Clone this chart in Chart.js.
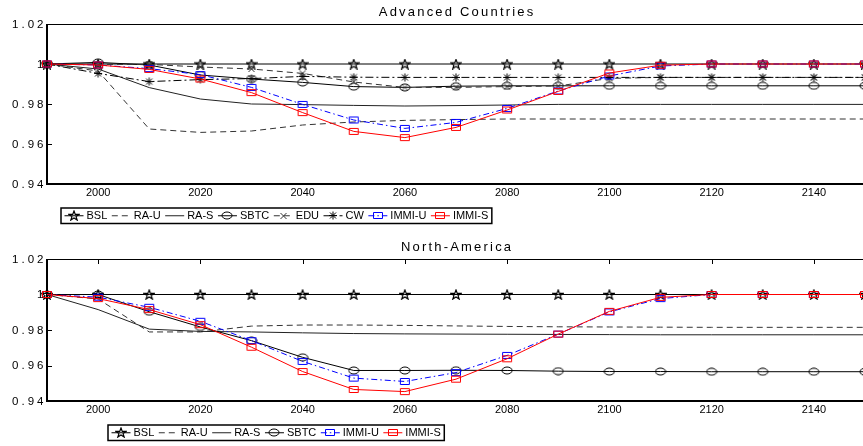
<!DOCTYPE html>
<html>
<head>
<meta charset="utf-8">
<script src="https://cdn.jsdelivr.net/npm/chart.js@4/dist/chart.umd.min.js"></script>
<style>
  html, body { margin: 0; padding: 0; background: #fff; overflow: hidden; }
  #wrap { position: relative; width: 863px; height: 446px; overflow: hidden; }
  canvas { position: absolute; left: 0; }
  #topChart { top: 0; }
  #bottomChart { top: 226px; }
</style>
</head>
<body>
<div id="wrap">
  <canvas id="topChart" width="870" height="226"></canvas>
  <canvas id="bottomChart" width="870" height="220"></canvas>
</div>
<script>
// x values and axis ticks
const years = [1990, 2000, 2010, 2020, 2030, 2040, 2050, 2060, 2070, 2080, 2090, 2100, 2110, 2120, 2130, 2140, 2150];
const xTicks = [2000, 2020, 2040, 2060, 2080, 2100, 2120, 2140];
const yTicks = [0.94, 0.96, 0.98, 1, 1.02];
const yTickLabels = ['0.94', '0.96', '0.98', '1', '1.02'];

// Advanced Countries
const acBSL   = [1, 1, 1, 1, 1, 1, 1, 1, 1, 1, 1, 1, 1, 1, 1, 1, 1];
const acRAU   = [1, 0.9965, 0.9675, 0.9658, 0.9665, 0.9695, 0.9710, 0.9718, 0.9722, 0.9725, 0.9725, 0.9725, 0.9725, 0.9725, 0.9725, 0.9725, 0.9725];
const acRAS   = [1, 0.9975, 0.9882, 0.9825, 0.9800, 0.9797, 0.9793, 0.9790, 0.9792, 0.9795, 0.9798, 0.9798, 0.9798, 0.9798, 0.9798, 0.9798, 0.9798];
const acSBTC  = [1, 1.0008, 0.9995, 0.9945, 0.9925, 0.9908, 0.9887, 0.9883, 0.9889, 0.9891, 0.9891, 0.9891, 0.9891, 0.9891, 0.9891, 0.9891, 0.9891];
const acEDU   = [1, 0.9998, 0.9998, 0.9985, 0.9975, 0.9953, 0.9910, 0.9883, 0.9883, 0.9887, 0.9890, 0.9928, 0.9933, 0.9933, 0.9933, 0.9933, 0.9933];
const acCW    = [1, 0.9953, 0.9912, 0.9922, 0.9927, 0.9938, 0.9934, 0.9933, 0.9933, 0.9933, 0.9933, 0.9933, 0.9933, 0.9933, 0.9933, 0.9933, 0.9933];
const acIMMIU = [1, 0.9995, 0.9977, 0.9947, 0.9883, 0.9798, 0.9720, 0.9678, 0.9708, 0.9778, 0.9865, 0.9940, 0.9990, 1, 1, 1, 1];
const acIMMIS = [1, 0.9995, 0.9973, 0.9925, 0.9857, 0.9757, 0.9663, 0.9632, 0.9683, 0.9770, 0.9863, 0.9955, 0.9994, 1, 1, 1, 1];

// North-America
const naBSL   = [1, 1, 1, 1, 1, 1, 1, 1, 1, 1, 1, 1, 1, 1, 1, 1, 1];
const naRAU   = [1, 0.9975, 0.9789, 0.9789, 0.9822, 0.9828, 0.9828, 0.9826, 0.9823, 0.9820, 0.9818, 0.9817, 0.9816, 0.9815, 0.9815, 0.9815, 0.9815];
const naRAS   = [1, 0.9915, 0.9805, 0.9792, 0.9789, 0.9784, 0.9780, 0.9778, 0.9777, 0.9776, 0.9775, 0.9774, 0.9773, 0.9773, 0.9773, 0.9773, 0.9773];
const naSBTC  = [1, 1, 0.9903, 0.9817, 0.9740, 0.9646, 0.9572, 0.9572, 0.9573, 0.9572, 0.9568, 0.9566, 0.9566, 0.9565, 0.9565, 0.9565, 0.9565];
const naIMMIU = [1, 0.9985, 0.9928, 0.9849, 0.9740, 0.9623, 0.9529, 0.9510, 0.9560, 0.9657, 0.9777, 0.9902, 0.9977, 1, 1, 1, 1];
const naIMMIS = [1, 0.9977, 0.9915, 0.9830, 0.9703, 0.9566, 0.9465, 0.9453, 0.9523, 0.9638, 0.9777, 0.9905, 0.9984, 1, 1, 1, 1];

const FONT = '"Liberation Sans", Arial, Helvetica, sans-serif';

// matlab-like markers (a bit wider than tall, like the picture)
function makeMarker(kind, color) {
  const sizes = { star: [12, 11], circle: [12, 9], square: [12, 9], asterisk: [10, 9], cross: [9, 8] };
  const c = document.createElement('canvas');
  c.width = sizes[kind][0];
  c.height = sizes[kind][1];
  const g = c.getContext('2d');
  const cx = c.width / 2, cy = c.height / 2;
  g.strokeStyle = color;
  g.lineWidth = 1;
  g.beginPath();
  if (kind === 'star') {
    g.lineWidth = 1.2;
    for (let i = 0; i < 10; i++) {
      const r = i % 2 === 0 ? 1 : 0.4;
      const a = -Math.PI / 2 + i * Math.PI / 5;
      const px = cx + Math.cos(a) * r * 5.4;
      const py = cy + 0.5 + Math.sin(a) * r * 5;
      if (i === 0) g.moveTo(px, py); else g.lineTo(px, py);
    }
    g.closePath();
  } else if (kind === 'circle') {
    g.ellipse(cx, cy, 5, 3.5, 0, 0, Math.PI * 2);
  } else if (kind === 'square') {
    g.rect(1.5, 1.5, c.width - 3, c.height - 3);
  } else if (kind === 'asterisk') {
    g.moveTo(cx - 4, cy); g.lineTo(cx + 4, cy);
    g.moveTo(cx, cy - 4); g.lineTo(cx, cy + 4);
    g.moveTo(cx - 3, cy - 3); g.lineTo(cx + 3, cy + 3);
    g.moveTo(cx - 3, cy + 3); g.lineTo(cx + 3, cy - 3);
  } else if (kind === 'cross') {
    g.moveTo(cx - 3, cy - 3); g.lineTo(cx + 3, cy + 3);
    g.moveTo(cx - 3, cy + 3); g.lineTo(cx + 3, cy - 3);
  }
  g.stroke();
  return c;
}

const DASH = [6, 4];
const DASHDOT = [8, 3, 2, 3];
const BLUEDOT = [6, 3, 1.5, 3];

const topSeries = [
  { label: 'BSL',    data: acBSL,   color: '#000', dash: [],      marker: 'star' },
  { label: 'RA-U',   data: acRAU,   color: '#333', dash: DASH,    marker: null },
  { label: 'RA-S',   data: acRAS,   color: '#222', dash: [],      marker: null },
  { label: 'SBTC',   data: acSBTC,  color: '#000', dash: [],      marker: 'circle' },
  { label: 'EDU',    data: acEDU,   color: '#333', dash: DASH,    marker: 'cross' },
  { label: 'CW',     data: acCW,    color: '#000', dash: DASHDOT, marker: 'asterisk' },
  { label: 'IMMI-U', data: acIMMIU, color: '#0000ff', dash: BLUEDOT, marker: 'square' },
  { label: 'IMMI-S', data: acIMMIS, color: '#ff0000', dash: [],   marker: 'square' }
];

const bottomSeries = [
  { label: 'BSL',    data: naBSL,   color: '#000', dash: [],      marker: 'star' },
  { label: 'RA-U',   data: naRAU,   color: '#333', dash: DASH,    marker: null },
  { label: 'RA-S',   data: naRAS,   color: '#222', dash: [],      marker: null },
  { label: 'SBTC',   data: naSBTC,  color: '#000', dash: [],      marker: 'circle' },
  { label: 'IMMI-U', data: naIMMIU, color: '#0000ff', dash: BLUEDOT, marker: 'square' },
  { label: 'IMMI-S', data: naIMMIS, color: '#ff0000', dash: [],   marker: 'square' }
];

function buildDatasets(series) {
  return series.map((s, i) => {
    s.img = s.marker ? makeMarker(s.marker, s.color) : null;
    return {
      label: s.label,
      data: years.map((yr, k) => ({ x: yr, y: s.data[k] })),
      borderColor: s.color,
      borderWidth: 1,
      borderDash: s.dash,
      pointStyle: s.img || 'circle',
      pointRadius: s.img ? 4 : 0,
      tension: 0,
      fill: false,
      clip: false,
      order: series.length - i   // later series end up on top, like matlab
    };
  });
}

function spacedWidth(ctx, txt, sp) {
  let w = 0;
  for (const ch of txt) w += ctx.measureText(ch).width + sp;
  return w - sp;
}

function drawSpaced(ctx, txt, x, y, sp) {
  for (const ch of txt) {
    ctx.fillText(ch, x, y);
    x += ctx.measureText(ch).width + sp;
  }
}

function drawLegend(ctx, series, cx, top) {
  const sample = 19, gap = 3, between = 4.5, pad = 3.5, h = 15.5;
  ctx.font = '11px ' + FONT;
  const widths = series.map(s => ctx.measureText(s.label).width);
  const total = pad * 2 + widths.reduce((a, b) => a + b, 0) +
    series.length * (sample + gap) + (series.length - 1) * between;
  const x0 = Math.round(cx - total / 2);
  ctx.fillStyle = '#fff';
  ctx.fillRect(x0, top, total, h);
  ctx.lineWidth = 1.5;
  ctx.strokeStyle = '#000';
  ctx.strokeRect(x0, top, total, h);
  const mid = top + h / 2;
  let px = x0 + pad;
  series.forEach((s, i) => {
    ctx.save();
    ctx.strokeStyle = s.color;
    ctx.lineWidth = 1;
    ctx.setLineDash(s.dash);
    ctx.beginPath();
    ctx.moveTo(px, mid);
    ctx.lineTo(px + sample, mid);
    ctx.stroke();
    ctx.restore();
    if (s.img) ctx.drawImage(s.img, Math.round(px + sample / 2 - s.img.width / 2), Math.round(mid - s.img.height / 2));
    ctx.fillStyle = '#000';
    ctx.textBaseline = 'middle';
    ctx.textAlign = 'left';
    ctx.fillText(s.label, px + sample + gap, mid + 0.5);
    px += sample + gap + widths[i] + between;
  });
}

// frame, inner ticks, spaced y labels, title and legend
function panelPlugin(title, series, topTicks) {
  return {
    id: 'panel',
    beforeDatasetsDraw(chart) {
      const { ctx, chartArea: a, scales } = chart;
      ctx.save();
      ctx.strokeStyle = '#000';
      ctx.lineWidth = 1;
      ctx.beginPath();
      ctx.moveTo(a.left, a.top + 0.5);
      ctx.lineTo(a.right + 4, a.top + 0.5);
      yTicks.forEach(v => {
        const y = Math.round(scales.y.getPixelForValue(v)) + 0.5;
        ctx.moveTo(a.left, y);
        ctx.lineTo(a.left + 5, y);
      });
      if (topTicks) {
        xTicks.forEach(v => {
          const x = Math.round(scales.x.getPixelForValue(v)) + 0.5;
          ctx.moveTo(x, a.top);
          ctx.lineTo(x, a.top + 5);
        });
      }
      ctx.stroke();
      ctx.lineWidth = 2;
      ctx.beginPath();
      ctx.moveTo(a.left, a.top);
      ctx.lineTo(a.left, a.bottom);
      ctx.lineTo(a.right + 4, a.bottom);
      ctx.stroke();
      ctx.restore();
    },
    afterDraw(chart) {
      const { ctx, chartArea: a, scales } = chart;
      ctx.save();
      ctx.fillStyle = '#000';
      ctx.textBaseline = 'middle';
      ctx.textAlign = 'left';

      ctx.font = '11.5px ' + FONT;
      yTicks.forEach((v, i) => {
        const txt = yTickLabels[i];
        const w = spacedWidth(ctx, txt, 3);
        drawSpaced(ctx, txt, 43.5 - w, scales.y.getPixelForValue(v) + 0.5, 3);
      });

      ctx.font = '13px ' + FONT;
      const tw = spacedWidth(ctx, title, 2.2);
      drawSpaced(ctx, title, (a.left + a.right) / 2 - tw / 2, a.top - 11.5, 2.2);

      drawLegend(ctx, series, 276, a.bottom + 24);
      ctx.restore();
    }
  };
}

function makeChart(id, series, title, pad, topTicks) {
  return new Chart(document.getElementById(id), {
    type: 'line',
    data: { datasets: buildDatasets(series) },
    options: {
      responsive: false,
      devicePixelRatio: 1,
      animation: false,
      events: [],
      layout: { padding: pad },
      plugins: {
        legend: { display: false },
        title: { display: false },
        tooltip: { enabled: false }
      },
      scales: {
        x: {
          type: 'linear',
          min: 1990,
          max: 2150,
          afterBuildTicks: s => { s.ticks = xTicks.map(v => ({ value: v })); },
          afterFit: s => { s.height = 20; },
          grid: { display: false, drawTicks: false, tickLength: 0 },
          border: { display: false },
          ticks: {
            font: { family: FONT, size: 11 },
            color: '#000',
            padding: 2,
            maxRotation: 0,
            autoSkip: false,
            callback: v => String(v)
          }
        },
        y: {
          min: 0.94,
          max: 1.02,
          afterBuildTicks: s => { s.ticks = yTicks.map(v => ({ value: v })); },
          afterFit: s => { s.width = 47; },
          grid: { display: false, drawTicks: false },
          border: { display: false },
          ticks: { display: false }
        }
      }
    },
    plugins: [panelPlugin(title, series, topTicks)]
  });
}

makeChart('topChart', topSeries, 'Advanced Countries', { top: 24, right: 4, bottom: 22, left: 0 }, false);
makeChart('bottomChart', bottomSeries, 'North-America', { top: 33, right: 4, bottom: 25, left: 0 }, true);
</script>
</body>
</html>
